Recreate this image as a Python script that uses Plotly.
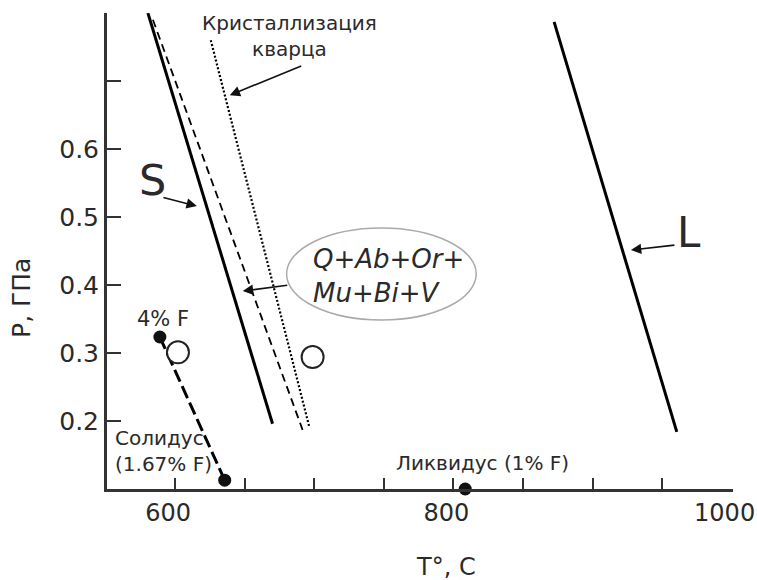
import plotly.graph_objects as go

# ---- data (T in °C, P in GPa) ----
solid_T = [580.4, 670.0]
solid_P = [0.800, 0.196]
dash_T = [584.0, 691.6]
dash_P = [0.790, 0.187]
quartz_T = [625.6, 696.6]
quartz_P = [0.760, 0.190]
liq_T = [872.4, 960.6]
liq_P = [0.787, 0.184]
melt_T = [589.0, 635.6]
melt_P = [0.3235, 0.113]
filled_T = [589.0, 635.6, 808.5]
filled_P = [0.3235, 0.113, 0.100]
open_T = [602.0, 698.8]
open_P = [0.301, 0.294]

x_major = [600, 800, 1000]
x_minor = [600, 650, 700, 750, 800, 850, 900, 950]
y_major = [0.2, 0.3, 0.4, 0.5, 0.6]
y_minor = [0.2, 0.3, 0.4, 0.5, 0.6, 0.7]

FONT = "DejaVu Sans, Liberation Sans, Arial, sans-serif"
TXT = "#2a2a2a"

fig = go.Figure()
fig.add_trace(go.Scatter(x=solid_T, y=solid_P, mode="lines",
                         line=dict(color="black", width=3), cliponaxis=False))
fig.add_trace(go.Scatter(x=dash_T, y=dash_P, mode="lines",
                         line=dict(color="black", width=1.8, dash="8px,5px"), cliponaxis=False))
fig.add_trace(go.Scatter(x=quartz_T, y=quartz_P, mode="lines",
                         line=dict(color="black", width=2.2, dash="2px,2px"), cliponaxis=False))
fig.add_trace(go.Scatter(x=liq_T, y=liq_P, mode="lines",
                         line=dict(color="black", width=3), cliponaxis=False))
fig.add_trace(go.Scatter(x=melt_T, y=melt_P, mode="lines",
                         line=dict(color="black", width=3, dash="13px,5px"), cliponaxis=False))
fig.add_trace(go.Scatter(x=open_T, y=open_P, mode="markers",
                         marker=dict(size=22, color="white", line=dict(color="#222", width=2)),
                         cliponaxis=False))
fig.add_trace(go.Scatter(x=filled_T, y=filled_P, mode="markers",
                         marker=dict(size=13, color="#111"), cliponaxis=False))

# ellipse around mineral assemblage
fig.add_shape(type="circle", xref="x", yref="y", x0=680.1, x1=816.4, y0=0.3485, y1=0.4838,
              line=dict(color="#aaaaaa", width=1.5), fillcolor="white", layer="below")

ann = []
def arrow(x, y, ax, ay):
    ann.append(dict(x=x, y=y, ax=ax, ay=ay, xref="x", yref="y", text="", showarrow=True,
                    arrowhead=2, arrowsize=1.3, arrowwidth=1.6, arrowcolor="#111"))
def label(x, y, text, size, xanchor="center", align="center", italic=False):
    t = f"<i>{text}</i>" if italic else text
    ann.append(dict(x=x, y=y, xref="x", yref="y", text=t, showarrow=False, xanchor=xanchor,
                    yanchor="middle", align=align, font=dict(family=FONT, size=size, color=TXT)))

arrow(615.6, 0.516, -35, -9)
arrow(927.6, 0.4515, 45, -5)
arrow(639.2, 0.679, 73, -30)
arrow(648.6, 0.391, 46, -6)

label(584.0, 0.554, "S", 43)
label(969.2, 0.4765, "L", 42)
label(682.3, 0.766, "Кристаллизация<br>кварца", 20)
label(698.0, 0.413, "Q+Ab+Or+<br>Mu+Bi+V", 26, xanchor="left", align="left", italic=True)
label(591.2, 0.350, "4% F", 21)
label(555.5, 0.156, "Солидус<br>(1.67% F)", 20, xanchor="left", align="left")
label(820.7, 0.138, "Ликвидус (1% F)", 20)

ann.append(dict(x=0.542, y=0, xref="paper", yref="paper", yshift=-78, text="T°, C",
                showarrow=False, yanchor="middle", font=dict(family=FONT, size=24, color=TXT)))
ann.append(dict(x=0, y=0.381, xref="paper", yref="y", xshift=-85, text="P, ГПа",
                showarrow=False, textangle=-90, xanchor="center", yanchor="middle",
                font=dict(family=FONT, size=25, color=TXT)))

fig.update_layout(
    width=757, height=580,
    margin=dict(l=107, r=24, t=13, b=91),
    paper_bgcolor="white", plot_bgcolor="white",
    showlegend=False,
    annotations=ann,
    xaxis=dict(range=[551, 1001], showgrid=False, zeroline=False, automargin=False,
               showline=True, linecolor="#333", linewidth=3,
               tickvals=x_major, ticktext=[str(v) for v in x_major], ticks="",
               ticklabeloverflow="allow", ticklabelshift=-7,
               tickfont=dict(family=FONT, size=24, color=TXT),
               minor=dict(tickvals=x_minor, ticks="inside", ticklen=11, tickwidth=2, tickcolor="#333")),
    yaxis=dict(range=[0.1, 0.8], showgrid=False, zeroline=False, automargin=False,
               showline=True, linecolor="#333", linewidth=3,
               tickvals=y_major, ticktext=[f"{v:.1f}" for v in y_major], ticks="",
               tickfont=dict(family=FONT, size=25, color=TXT),
               minor=dict(tickvals=y_minor, ticks="inside", ticklen=14, tickwidth=2, tickcolor="#333")),
)

fig.write_html("out.html", config={"displayModeBar": False},
               post_script="document.body.style.margin='0';document.body.style.padding='0';")
